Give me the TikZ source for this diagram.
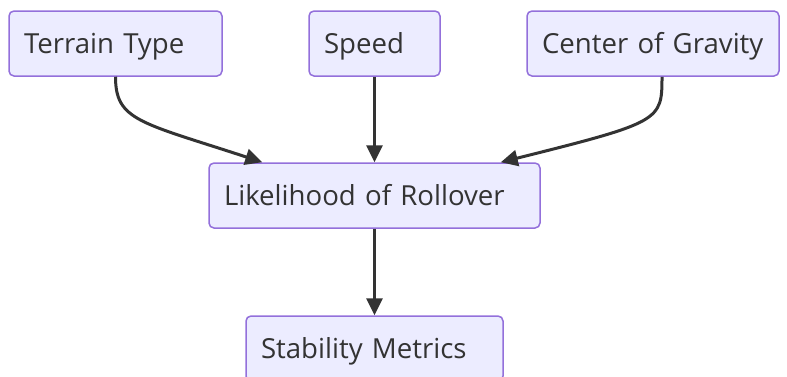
\documentclass[tikz,border=0pt]{standalone}
\usepackage{fontspec}
\setmainfont{Open Sans}
\usepackage{tikz}
\usetikzlibrary{arrows.meta}

\definecolor{boxfill}{HTML}{ECECFF}
\definecolor{boxline}{HTML}{9370DB}
\definecolor{ink}{HTML}{333333}

\begin{document}
\begin{tikzpicture}[x=1pt,y=-1pt,>={Triangle[length=17pt,width=16pt]},
    factor/.style={draw=boxline,fill=boxfill,line width=1.5pt,rounded corners=5pt,
        minimum height=65pt,inner xsep=15pt,align=left,text=ink,
        text height=20pt,text depth=0pt,
        font=\fontsize{27.6}{32}\selectfont},
    link/.style={->,draw=ink,line width=3pt}]

    \useasboundingbox (0,0) rectangle (787,376);

    \node[factor,text width=183pt] (terrain)  at (115.5,43.5)  {Terrain Type};
    \node[factor,text width=101pt] (speed)    at (374.5,43.5)  {Speed};
    \node[factor,text width=222pt] (gravity)  at (653,43.5)    {Center of Gravity};
    \node[factor,text width=301pt] (rollover) at (374.5,195.5) {Likelihood of Rollover};
    \node[factor,text width=227pt] (metrics)  at (374.5,348.5) {Stability Metrics};

    \path[link] (terrain.south) .. controls +(0,44) and +(-122,-40) .. ([xshift=54pt]rollover.north west);
    \path[link] (speed) -- (rollover);
    \path[link] ([xshift=9pt]gravity.south) .. controls +(0,44) and +(160,-40) .. ([xshift=-40pt]rollover.north east);
    \path[link] (rollover) -- (metrics);

\end{tikzpicture}
\end{document}
